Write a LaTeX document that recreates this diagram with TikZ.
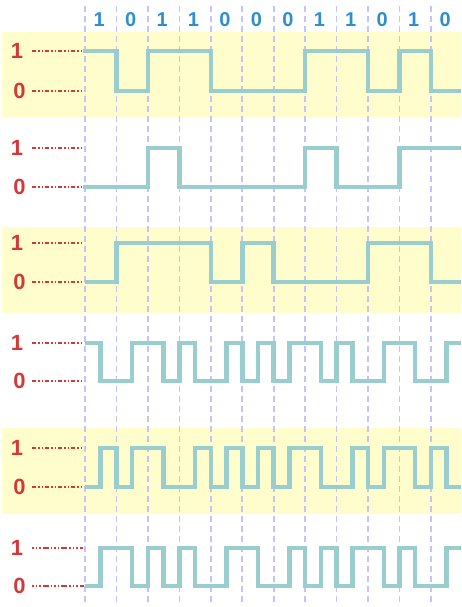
\documentclass[tikz,border=0pt]{standalone}
\usepackage{fontspec}
\setmainfont{Liberation Sans}
\definecolor{bandyellow}{HTML}{FFFDCC}
\definecolor{gridlav}{HTML}{C4C4FA}
\definecolor{wavecol}{HTML}{9ACECE}
\definecolor{lvlred}{HTML}{D23A3A}
\definecolor{bitblue}{HTML}{2E8FD0}
\tikzset{
  band/.style={fill=bandyellow, draw=none},
  gridline/.style={gridlav, line width=1.7pt, dash pattern=on 6pt off 4pt},
  wave/.style={wavecol, line width=4.5pt, line join=miter},
  refline/.style={lvlred, line width=1.3pt, dash pattern=on 4pt off 2pt on 1.5pt off 2pt on 1.5pt off 2pt},
  refline2/.style={lvlred, line width=1.3pt, dash pattern=on 1.5pt off 2pt on 1.5pt off 2pt on 1.5pt off 2pt on 6pt off 2pt},
  lvl/.style={text=lvlred, font=\bfseries\fontsize{22}{22}\selectfont, inner sep=0pt},
  bit/.style={text=bitblue, font=\bfseries\fontsize{20}{20}\selectfont, inner sep=0pt},
}
\begin{document}
\begin{tikzpicture}[x=1pt, y=-1pt]
\useasboundingbox (0,0) rectangle (461,607);
\fill[white] (0,0) rectangle (461,607);
% yellow bands
\fill[band] (2,32) rectangle (461,117);
\fill[band] (2,227) rectangle (461,313);
\fill[band] (2,428) rectangle (461,514);
% grid lines
\foreach \i in {0,...,11} {
  \draw[gridline] ({85+31.45*\i},6) -- ({85+31.45*\i},604);
}
% bit labels
\foreach \b [count=\k from 0] in {1,0,1,1,0,0,0,1,1,0,1,0} {
  \node[bit] (b\k) at ({99.2+31.45*\k},20) {\b};
}
% level labels and reference lines
\foreach \hi/\lo/\r/\st in {51/91/1/refline, 148/187/2/refline, 243/282/3/refline, 343/381/4/refline, 448/487/5/refline, 548/586/6/refline2} {
  \node[lvl] (one\r) at (17,\hi) {1};
  \node[lvl] (zero\r) at (19.5,\lo) {0};
  \draw[\st] (32,\hi) -- (83,\hi);
  \draw[\st] (32,\lo) -- (84,\lo);
}
% waveforms
\begin{scope}[shift={(85pt,0pt)}, x=31.45pt]
\draw[wave] (-0.06,51) -| (1,91) -| (2,51) -| (4,91) -| (7,51) -| (9,91) -| (10,51) -| (11,91) -- (11.96,91);
\draw[wave] (-0.06,187) -| (2,148) -| (3,187) -| (7,148) -| (8,187) -| (10,148) -- (11.96,148);
\draw[wave] (0,282) -| (1,243) -| (4,282) -| (5,243) -| (6,282) -| (9,243) -| (11,282) -- (11.96,282);
\draw[wave] (0,343) -| (0.5,381) -| (1.5,343) -| (2.5,381) -| (3,343) -| (3.5,381) -| (4.5,343) -| (5,381) -| (5.5,343) -| (6,381) -| (6.5,343) -| (7.5,381) -| (8,343) -| (8.5,381) -| (9.5,343) -| (10.5,381) -| (11.5,343) -- (11.96,343);
\draw[wave] (0,487) -| (0.5,448) -| (1,487) -| (1.5,448) -| (2.5,487) -| (3.5,448) -| (4,487) -| (4.5,448) -| (5,487) -| (5.5,448) -| (6,487) -| (6.5,448) -| (7.5,487) -| (8.5,448) -| (9,487) -| (9.5,448) -| (10.5,487) -| (11,448) -| (11.5,487) -- (11.96,487);
\draw[wave] (0,586) -| (0.5,548) -| (1.5,586) -| (2,548) -| (2.5,586) -| (3,548) -| (3.5,586) -| (4.5,548) -| (5.5,586) -| (6.5,548) -| (7,586) -| (7.5,548) -| (8,586) -| (8.5,548) -| (9.5,586) -| (10,548) -| (10.5,586) -| (11.5,548) -- (11.96,548);
\end{scope}
\end{tikzpicture}
\end{document}
